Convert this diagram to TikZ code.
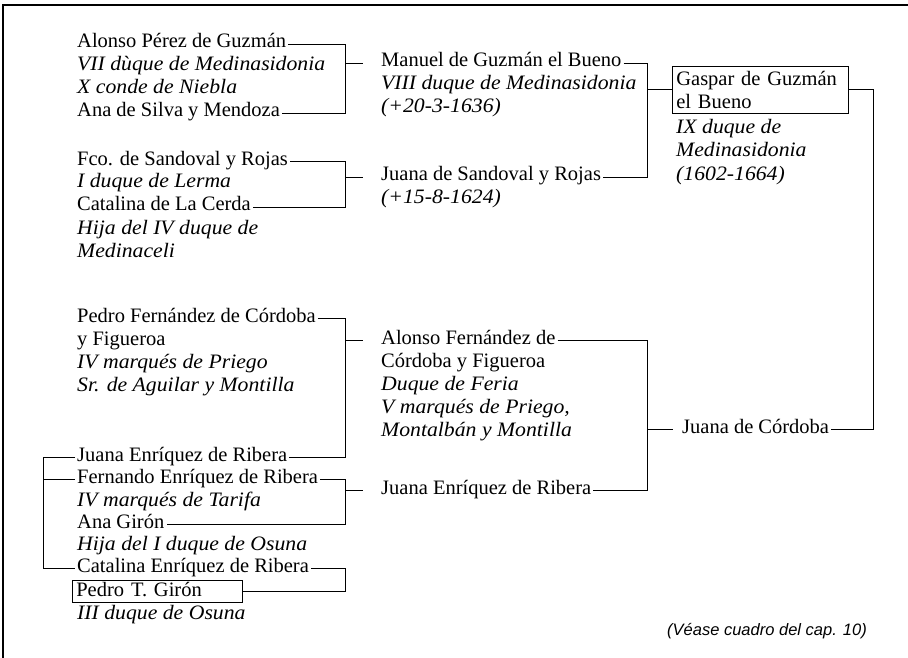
\documentclass[tikz,border=0pt]{standalone}
\usepackage{fontspec}
\setmainfont{Liberation Serif}[ItalicFeatures={FakeStretch=1.06}]
\setsansfont{Liberation Sans}
\usepackage{tikz}
\usetikzlibrary{positioning}

\begin{document}
\begin{tikzpicture}[
    x=1pt, y=-1pt,
    % one printed line of the tree - east/west sit at the height of the rules
    person/.style={
        anchor=base west, inner xsep=2pt, inner ysep=0pt,
        text height=8pt, text depth=0pt,
        font=\fontsize{20.5}{23}\selectfont
    },
    % titles and dates under a name
    title/.style={person, font=\fontsize{20.5}{23}\selectfont\itshape},
    % boxed heirs
    heir/.style={
        rectangle, draw, line width=0.7pt,
        inner xsep=4pt, inner ysep=2pt, align=left,
        font=\fontsize{20.5}{23}\selectfont
    },
    link/.style={line width=0.8pt},
    note/.style={anchor=base west, inner sep=0pt,
        font=\fontsize{16.5}{20}\selectfont\sffamily\itshape},
]
\useasboundingbox (0,0) rectangle (908,658);

% Page frame - only top and left edges show
\draw[line width=1.2pt] (908,5) -- (3,5) -- (3,658);

% Bracket spines
\coordinate (spineL) at (43,0);
\coordinate (spineA) at (345,0);
\coordinate (spineB) at (647,0);
\coordinate (spineC) at (873,0);

% Grandparents - left column
\node[person] (alonso) at (75,48) {Alonso Pérez de Guzmán};
\node[title] at (75,71) {VII dùque de Medinasidonia};
\node[title] at (75,94) {X conde de Niebla};
\node[person] (ana) at (75,117) {Ana de Silva y Mendoza};

\node[person] (fco) at (75,165) {Fco. de Sandoval y Rojas};
\node[title] at (75,188) {I duque de Lerma};
\node[person] (catalina) at (75,211) {Catalina de La Cerda};
\node[title] at (75,234) {Hija del IV duque de};
\node[title] at (75,257) {Medinaceli};

\node[person] (pedrof) at (75,322) {Pedro Fernández de Córdoba};
\node[person] at (75,345) {y Figueroa};
\node[title] at (75,368) {IV marqués de Priego};
\node[title] at (75,391) {Sr. de Aguilar y Montilla};

\node[person] (juanae) at (75,461) {Juana Enríquez de Ribera};
\node[person] (fernando) at (75,483) {Fernando Enríquez de Ribera};
\node[title] at (75,506) {IV marqués de Tarifa};
\node[person] (anag) at (75,528) {Ana Girón};
\node[title] at (75,550) {Hija del I duque de Osuna};
\node[person] (catalinae) at (75,572) {Catalina Enríquez de Ribera};
\node[heir, anchor=base west, text width=162pt, text height=14pt, text depth=4pt] (pedrot) at (72,596) {Pedro T. Girón};
\node[title] at (75,619) {III duque de Osuna};

% Parents - middle column
\node[person] (manuel) at (379,67) {Manuel de Guzmán el Bueno};
\node[title] at (379,90) {VIII duque de Medinasidonia};
\node[title] at (379,113) {(+20-3-1636)};

\node[person] (juanas) at (379,181) {Juana de Sandoval y Rojas};
\node[title] at (379,204) {(+15-8-1624)};

\node[person] (alonsof) at (379,344) {Alonso Fernández de};
\node[person] at (379,367) {Córdoba y Figueroa};
\node[title] at (379,390) {Duque de Feria};
\node[title] at (379,413) {V marqués de Priego,};
\node[title] at (379,436) {Montalbán y Montilla};

\node[person] (juanar) at (379,494) {Juana Enríquez de Ribera};

% Heir and spouse - right column
\node[heir, anchor=north west, text width=168pt, minimum height=47pt] (gaspar) at (672,66) {Gaspar de Guzmán\\el Bueno};
\node[title] at (674,134) {IX duque de};
\node[title] at (674,157) {Medinasidonia};
\node[title] at (674,180) {(1602-1664)};

\node[person] (juanac) at (680,433) {Juana de Córdoba};

\node[note] (note) at (667,635) {(Véase cuadro del cap. 10)};

% Brackets - couples joined, stub to the child
\draw[link] (alonso.east) -| (spineA |- ana.east) -- (ana.east);
\draw[link] (spineA |- manuel.west) -- +(18,0);

\draw[link] (fco.east) -| (spineA |- catalina.east) -- (catalina.east);
\draw[link] (spineA |- juanas.west) -- +(18,0);

\draw[link] (pedrof.east) -| (spineA |- juanae.east) -- (juanae.east);
\draw[link] (spineA |- alonsof.west) -- +(18,0);

\draw[link] (fernando.east) -| (spineA |- anag.east) -- (anag.east);
\draw[link] (spineA |- juanar.west) -- +(18,0);

\draw[link] (catalinae.east) -| (spineA |- pedrot.east) -- (pedrot.east);

% Siblings on the left
\draw[link] (juanae.west) -| (spineL |- catalinae.west) -- (catalinae.west);
\draw[link] (spineL |- fernando.west) -- (fernando.west);

\draw[link] (manuel.east) -| (spineB |- juanas.east) -- (juanas.east);
\draw[link] (spineB |- gaspar.west) -- (gaspar.west);

\draw[link] (alonsof.east) -| (spineB |- juanar.east) -- (juanar.east);
\draw[link] (spineB |- juanac.west) -- +(26,0);

\draw[link] (gaspar.east) -| (spineC |- juanac.east) -- (juanac.east);

\end{tikzpicture}
\end{document}
